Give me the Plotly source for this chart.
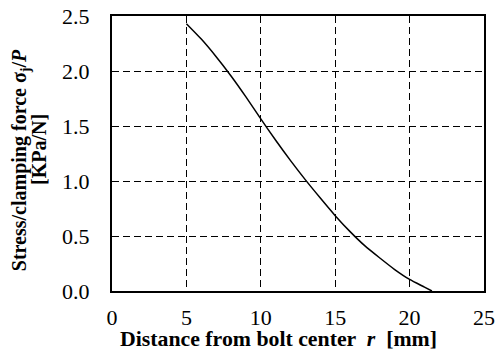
import plotly.graph_objects as go

r_mm = [5, 6, 7, 8, 9, 10, 11, 12, 13, 14, 15, 16, 17, 18, 19, 20, 21, 21.5]
stress = [2.43, 2.29, 2.13, 1.955, 1.765, 1.565, 1.37, 1.185, 1.01, 0.845, 0.685, 0.54, 0.41, 0.30, 0.195, 0.105, 0.035, 0.0]

x_ticks = [0, 5, 10, 15, 20, 25]
y_ticks = [0.0, 0.5, 1.0, 1.5, 2.0, 2.5]
y_tick_labels = ["0.0", "0.5", "1.0", "1.5", "2.0", "2.5"]

x_title = "<b>Distance from bolt center  <i>r</i>  [mm]</b>"
y_title_1 = "<b>Stress/clamping force σ<sub>j</sub>/<i>P</i></b>"
y_title_2 = "<b>[KPa/N]</b>"

FONT = "Liberation Serif"

fig = go.Figure()
fig.add_trace(go.Scatter(x=r_mm, y=stress, mode="lines",
                         line=dict(color="black", width=1.5, shape="spline", smoothing=0.6),
                         showlegend=False, hoverinfo="skip"))

axis_common = dict(
    showline=True, linecolor="black", linewidth=2, mirror=True,
    showgrid=True, gridcolor="black", gridwidth=1.4, griddash="7px,4px",
    zeroline=False, ticks="", automargin=False,
    tickfont=dict(family=FONT, size=22, color="black"),
)

fig.update_xaxes(range=[0, 25], tickvals=x_ticks, ticklabelstandoff=6, **axis_common)
fig.update_yaxes(range=[0, 2.5], tickvals=y_ticks, ticktext=y_tick_labels,
                 ticklabelstandoff=16, **axis_common)

title_font = dict(family=FONT, size=20, color="black")
fig.add_annotation(text=x_title, xref="paper", yref="paper", x=0.4476, y=-0.176,
                   xanchor="center", yanchor="middle", showarrow=False,
                   font=dict(family=FONT, size=21.8, color="black"))
fig.add_annotation(text=y_title_1, xref="paper", yref="paper", x=-0.247, y=0.476,
                   xanchor="center", yanchor="middle", textangle=-90, showarrow=False, font=title_font)
fig.add_annotation(text=y_title_2, xref="paper", yref="paper", x=-0.196, y=0.513,
                   xanchor="center", yanchor="middle", textangle=-90, showarrow=False, font=title_font)

fig.update_layout(
    width=504, height=351,
    margin=dict(l=112, r=20, t=16, b=60),
    paper_bgcolor="white", plot_bgcolor="white",
    font=dict(family=FONT, color="black"),
)

fig.write_html("out.html", config={"displayModeBar": False},
               post_script="document.body.style.margin='0px';")
